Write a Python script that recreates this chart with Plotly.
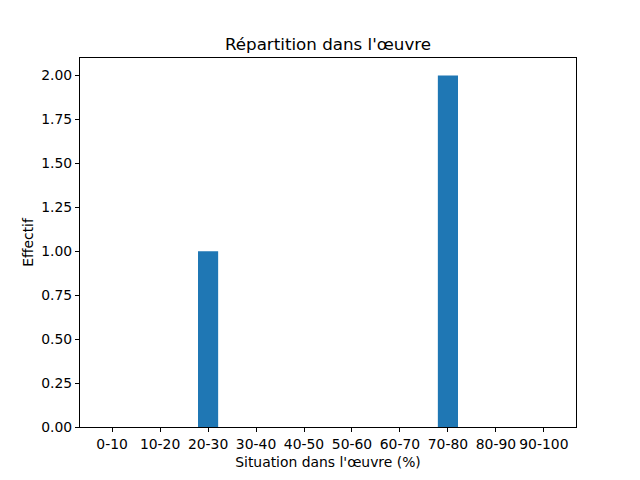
import plotly.graph_objects as go

categories = ["0-10", "10-20", "20-30", "30-40", "40-50", "50-60", "60-70", "70-80", "80-90", "90-100"]
counts = [0, 0, 1, 0, 0, 0, 0, 2, 0, 0]
y_ticks = [0.0, 0.25, 0.5, 0.75, 1.0, 1.25, 1.5, 1.75, 2.0]

fig = go.Figure(
    go.Bar(
        x=list(range(len(categories))),
        y=counts,
        width=0.42,
        marker=dict(color="#1f77b4", line=dict(width=0)),
    )
)

font = dict(family="DejaVu Sans", size=13.9, color="black")

# page body has an 8px margin, so shift everything up/left by 8
fig.update_layout(
    width=640,
    height=480,
    paper_bgcolor="white",
    plot_bgcolor="white",
    margin=dict(l=72, r=72, t=50, b=61),
    font=font,
    showlegend=False,
    title=dict(
        text="Répartition dans l'œuvre",
        x=0.5,
        xanchor="center",
        y=1 - 36 / 480,
        yanchor="middle",
        font=dict(family="DejaVu Sans", size=16.7, color="black"),
    ),
)

fig.update_xaxes(
    range=[-0.67, 9.67],
    tickmode="array",
    tickvals=list(range(len(categories))),
    ticktext=categories,
    ticks="outside",
    ticklen=4,
    tickcolor="black",
    showline=True,
    linecolor="black",
    linewidth=1,
    mirror=True,
    showgrid=False,
    zeroline=False,
    title=dict(text="Situation dans l'œuvre (%)", standoff=6, font=font),
)
fig.update_yaxes(
    range=[0, 2.1],
    tickmode="array",
    tickvals=y_ticks,
    tickformat=".2f",
    ticks="outside",
    ticklen=4,
    tickcolor="black",
    showline=True,
    linecolor="black",
    linewidth=1,
    mirror=True,
    showgrid=False,
    zeroline=False,
    title=dict(text="Effectif", standoff=4, font=font),
)

fig.write_html("out.html")
